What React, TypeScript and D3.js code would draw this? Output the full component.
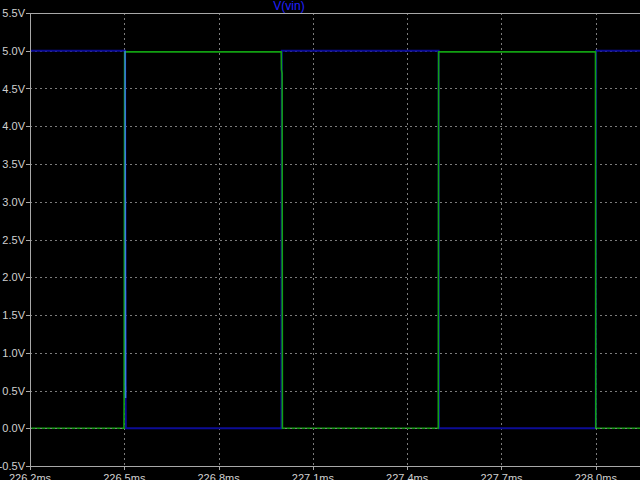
import React from "react";
import * as d3 from "d3";

const xTicks = [226.2, 226.5, 226.8, 227.1, 227.4, 227.7, 228.0];
const xTickLabels = ["226.2ms", "226.5ms", "226.8ms", "227.1ms", "227.4ms", "227.7ms", "228.0ms"];
const yTicks = [5.5, 5.0, 4.5, 4.0, 3.5, 3.0, 2.5, 2.0, 1.5, 1.0, 0.5, 0.0, -0.5];
const yTickLabels = ["5.5V", "5.0V", "4.5V", "4.0V", "3.5V", "3.0V", "2.5V", "2.0V", "1.5V", "1.0V", "0.5V", "0.0V", "-0.5V"];

// V(vin) — blue trace
const vinTime = [226.2, 226.5025, 226.504, 226.505, 227.0, 227.001, 227.5, 227.501, 228.0, 228.001, 228.3];
const vinVolt = [5.0, 5.0, 0.4, 0.0, 0.0, 5.0, 5.0, 0.0, 0.0, 5.0, 5.0];

// output — green trace
const outTime = [226.2, 226.499, 226.4995, 226.501, 226.9995, 227.0, 227.002, 227.003, 227.499, 227.5, 227.999, 228.0, 228.3];
const outVolt = [0.0, 0.0, 0.4, 4.985, 4.985, 4.75, 4.7, 0.0, 0.0, 4.985, 4.985, 0.0, 0.0];

const W = 640;
const H = 480;
const left = 30;
const top = 13;
const bottom = 466;

export default function App() {
  const x = d3.scaleLinear().domain([226.2, 228.3]).range([left, left + 2.1 * 314.33]);
  const y = d3.scaleLinear().domain([-0.5, 5.5]).range([bottom, top]);
  const line = d3
    .line<[number, number]>()
    .x((d) => x(d[0]))
    .y((d) => y(d[1]));
  const vinPts = vinTime.map((t, i) => [t, vinVolt[i]] as [number, number]);
  const outPts = outTime.map((t, i) => [t, outVolt[i]] as [number, number]);
  const axisColor = "#a8a8a8";
  const gridColor = "#7c7c7c";
  const font = "'Liberation Sans', Arial, sans-serif";

  // intervals where the green trace lies flat on 0 V (grid shows through there)
  const lowSegs: [number, number][] = [];
  for (let i = 0; i < outTime.length - 1; i++) {
    if (outVolt[i] === 0 && outVolt[i + 1] === 0) lowSegs.push([outTime[i], outTime[i + 1]]);
  }

  const gridH = (v: number, key: string, clip?: string) => (
    <line
      key={key}
      x1={left}
      x2={W}
      y1={Math.round(y(v)) + 0.5}
      y2={Math.round(y(v)) + 0.5}
      stroke={gridColor}
      strokeWidth={1}
      strokeDasharray="2,3"
      clipPath={clip}
    />
  );

  return (
    <svg
      width={W}
      height={H}
      style={{ position: "fixed", left: 0, top: 0, background: "#000" }}
    >
      <defs>
        <clipPath id="lowclip">
          {lowSegs.map((s, i) => (
            <rect key={i} x={x(s[0])} y={0} width={x(s[1]) - x(s[0])} height={H} />
          ))}
        </clipPath>
      </defs>
      <rect x={0} y={0} width={W} height={H} fill="#000" />
      {/* grid */}
      {xTicks.slice(1).map((t) => (
        <line
          key={"gx" + t}
          x1={Math.round(x(t)) + 0.5}
          x2={Math.round(x(t)) + 0.5}
          y1={top}
          y2={bottom}
          stroke={gridColor}
          strokeWidth={1}
          strokeDasharray="2,3"
        />
      ))}
      {yTicks.slice(1, -1).map((v) => gridH(v, "gy" + v))}
      {/* blue trace */}
      <path d={line(vinPts) || ""} fill="none" stroke="#0c0c96" strokeWidth={2} />
      {/* green trace */}
      <path d={line(outPts) || ""} fill="none" stroke="#12a012" strokeWidth={1.6} />
      {/* first falling edge of V(vin) lies over the green edge */}
      <path d={line(vinPts.slice(1, 3)) || ""} fill="none" stroke="#3a7ae0" strokeWidth={1.5} />
      {/* grid showing through the green trace at 0 V */}
      {gridH(0, "gy0over", "url(#lowclip)")}
      {/* axes */}
      <line x1={left + 0.5} x2={left + 0.5} y1={top} y2={bottom + 4} stroke={axisColor} />
      <line x1={left} x2={W} y1={top + 0.5} y2={top + 0.5} stroke={axisColor} />
      <line x1={left} x2={W} y1={bottom + 0.5} y2={bottom + 0.5} stroke={axisColor} />
      {yTicks.map((v, i) => (
        <g key={"yt" + v}>
          <line
            x1={left - 4}
            x2={left}
            y1={Math.round(y(v)) + 0.5}
            y2={Math.round(y(v)) + 0.5}
            stroke={axisColor}
          />
          <text
            x={left - 5}
            y={y(v) + 4}
            textAnchor="end"
            fill="#d0d0d0"
            fontSize={11}
            fontFamily={font}
          >
            {yTickLabels[i]}
          </text>
        </g>
      ))}
      {xTicks.map((t, i) => (
        <g key={"xt" + t}>
          <line
            x1={Math.round(x(t)) + 0.5}
            x2={Math.round(x(t)) + 0.5}
            y1={bottom}
            y2={bottom + 4}
            stroke={axisColor}
          />
          <text
            x={x(t)}
            y={bottom + 16}
            textAnchor="middle"
            fill="#d0d0d0"
            fontSize={11}
            fontFamily={font}
          >
            {xTickLabels[i]}
          </text>
        </g>
      ))}
      <text
        x={289}
        y={10}
        textAnchor="middle"
        fill="#2020ff"
        fontSize={12}
        fontFamily={font}
      >
        V(vin)
      </text>
    </svg>
  );
}
